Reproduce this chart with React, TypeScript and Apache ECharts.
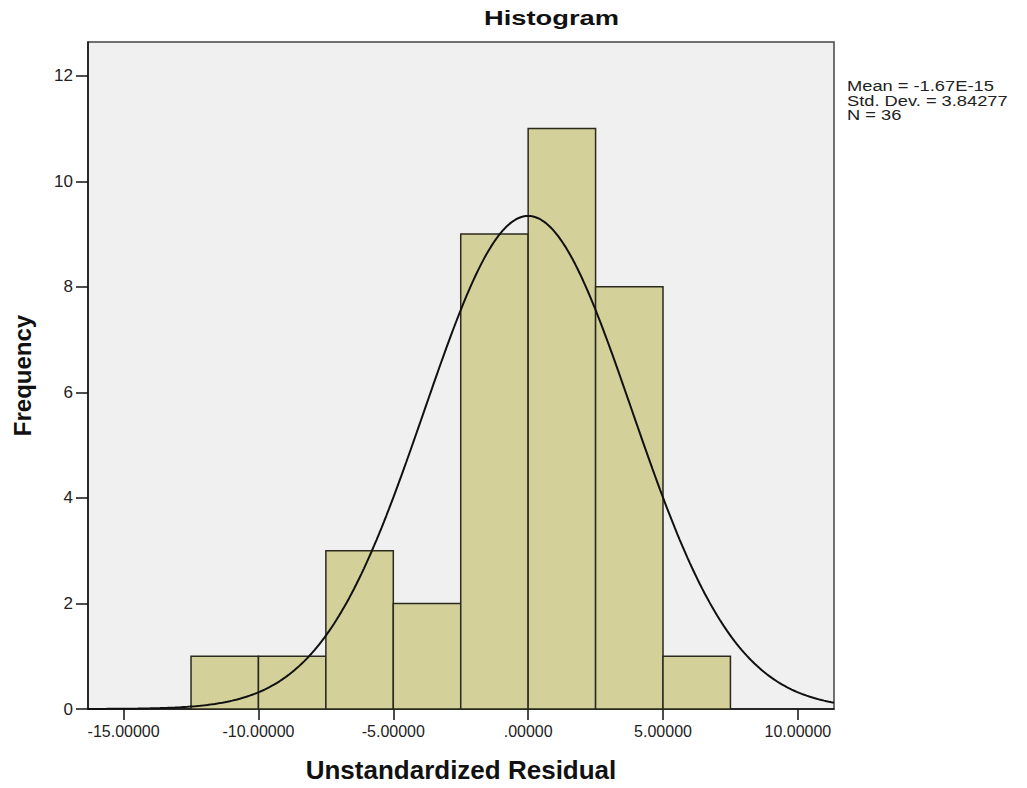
import React, { useEffect, useRef } from "react";
import * as echarts from "echarts";

const binStarts = [-12.5, -10, -7.5, -5, -2.5, 0, 2.5, 5];
const binWidth = 2.5;
const frequencies = [1, 1, 3, 2, 9, 11, 8, 1];
const xTickValues = [-15, -10, -5, 0, 5, 10];
const yTickValues = [0, 2, 4, 6, 8, 10, 12];
const statsLines = ["Mean = -1.67E-15", "Std. Dev. = 3.84277", "N = 36"];
const chartTitle = "Histogram";
const meanValue = -1.67e-15;
const stdDev = 3.84277;
const nCount = 36;
const xMin = -16.32;
const xMax = 11.34;

function fmtX(v: number): string {
  if (Math.abs(v) < 1e-9) return ".00000";
  return v.toFixed(5);
}

export default function App() {
  const ref = useRef<HTMLDivElement>(null);
  useEffect(() => {
    if (!ref.current) return;
    const chart = echarts.init(ref.current, null, { renderer: "svg" });
    const barData = binStarts.map((s, i) => [s, s + binWidth, frequencies[i]]);
    const curve: number[][] = [];
    const steps = 300;
    for (let i = 0; i <= steps; i++) {
      const x = xMin + ((xMax - xMin) * i) / steps;
      const z = (x - meanValue) / stdDev;
      const y = (nCount * binWidth) / (stdDev * Math.sqrt(2 * Math.PI)) * Math.exp(-0.5 * z * z);
      curve.push([x, y]);
    }
    const font = "'Liberation Sans', Arial, sans-serif";
    chart.setOption({
      animation: false,
      backgroundColor: "#ffffff",
      grid: {
        left: 88,
        right: 193,
        top: 42,
        bottom: 76,
        show: true,
        backgroundColor: "#f0f0f0",
        borderColor: "#444",
        borderWidth: 1.5,
      },
      xAxis: {
        type: "value",
        min: xMin,
        max: xMax,
        name: "Unstandardized Residual",
        nameLocation: "middle",
        nameGap: 48,
        nameTextStyle: { fontFamily: font, fontSize: 26, fontWeight: "bold", color: "#111" },
        axisLine: { show: true, onZero: false, lineStyle: { color: "#111", width: 1.5 } },
        axisTick: { show: true, length: 11, customValues: xTickValues, lineStyle: { color: "#111", width: 1.5 } },
        axisLabel: {
          customValues: xTickValues,
          formatter: (v: number) => fmtX(v),
          fontFamily: font,
          fontSize: 16,
          color: "#222",
          margin: 14,
        },
        splitLine: { show: false },
      },
      yAxis: {
        type: "value",
        min: 0,
        max: 12.64,
        interval: 2,
        name: "Frequency",
        nameLocation: "middle",
        nameGap: 54,
        nameRotate: 90,
        nameTextStyle: { fontFamily: font, fontSize: 24, fontWeight: "bold", color: "#111" },
        axisLine: { show: true, onZero: false, lineStyle: { color: "#111", width: 1.5 } },
        axisTick: { show: true, length: 12, customValues: yTickValues, lineStyle: { color: "#111", width: 1.5 } },
        axisLabel: {
          customValues: yTickValues,
          fontFamily: font,
          fontSize: 17,
          color: "#222",
          margin: 15,
        },
        splitLine: { show: false },
      },
      series: [
        {
          type: "custom",
          data: barData,
          renderItem: (params: any, api: any) => {
            const x0 = api.value(0);
            const x1 = api.value(1);
            const h = api.value(2);
            const p0 = api.coord([x0, h]);
            const p1 = api.coord([x1, 0]);
            return {
              type: "rect",
              shape: { x: p0[0], y: p0[1], width: p1[0] - p0[0], height: p1[1] - p0[1] },
              style: { fill: "#d4d09a", stroke: "#2a2a1e", lineWidth: 1.5 },
            };
          },
          encode: { x: [0, 1], y: 2 },
          z: 2,
        },
        {
          type: "line",
          data: curve,
          showSymbol: false,
          smooth: false,
          lineStyle: { color: "#111", width: 2 },
          z: 3,
        },
      ],
      graphic: [
        {
          type: "text",
          x: 484,
          y: 7,
          scaleX: 1.3,
          style: { text: chartTitle, fontFamily: font, fontSize: 21, fontWeight: "bold", fill: "#111" },
        },
        ...statsLines.map((t, i) => ({
          type: "text",
          x: 847,
          y: 78 + i * 14.5,
          scaleX: 1.18,
          style: { text: t, fontFamily: font, fontSize: 15.5, fill: "#222" },
        })),
      ],
    });
    return () => chart.dispose();
  }, []);
  return (
    <div
      ref={ref}
      style={{ position: "fixed", left: 0, top: 0, width: 1027, height: 788, background: "#fff" }}
    />
  );
}
